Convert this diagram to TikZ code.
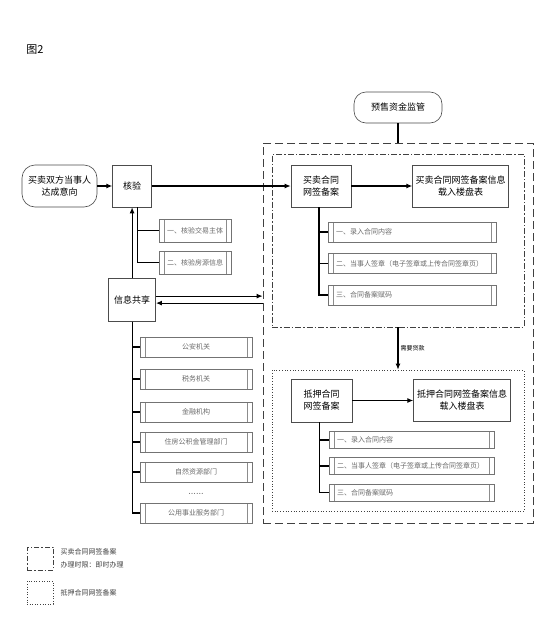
\documentclass[tikz,border=0pt]{standalone}
\usepackage{fontspec}
\newfontfamily\cjk{Noto Sans CJK SC}
\usetikzlibrary{positioning,arrows.meta}

\begin{document}
\begin{tikzpicture}[x=1pt,y=1pt,>={Latex[length=6pt,width=5pt]},
      main node/.style={draw=black!70,line width=0.6pt,fill=white,align=center,inner sep=1pt,
        font=\cjk\fontsize{9}{12}\selectfont},
      round node/.style={main node,rounded corners=13pt},
      sub node/.style={draw=black!55,line width=0.5pt,fill=white,text=black!58,inner sep=0pt,
        font=\cjk\fontsize{7}{8}\selectfont,
        path picture={\draw[black!45,line width=0.4pt]
          ([xshift=5pt]path picture bounding box.south west) -- ([xshift=5pt]path picture bounding box.north west)
          ([xshift=-5pt]path picture bounding box.south east) -- ([xshift=-5pt]path picture bounding box.north east);}},
      sub left/.style={sub node,text width=#1,align=left,inner xsep=8pt},
      frame/.style={draw=black!75,line width=0.7pt,inner sep=0pt},
      link/.style={line width=1.1pt}]
      \useasboundingbox (0,0) rectangle (553,-637);

      \node[font=\cjk\fontsize{11}{13}\selectfont] (title) at (35,-50) {图2};

      % frames
      \node[frame,dash pattern=on 8pt off 4pt,minimum width=270pt,minimum height=380pt] (outer) at (398,-333) {};
      \node[frame,dash pattern=on 6pt off 2pt on 1.5pt off 2pt,minimum width=252pt,minimum height=173pt] (inner) at (398,-240.5) {};
      \node[frame,dotted,minimum width=252pt,minimum height=141pt] (loan) at (398,-440.5) {};

      % main nodes
      \node[round node,minimum width=75pt,minimum height=42pt] (start) at (59.5,-186) {买卖双方当事人\\达成意向};
      \node[main node,minimum width=39pt,minimum height=42pt] (hy) [right=15pt of start] {核验};
      \node[main node,minimum width=47pt,minimum height=43pt] (share) [below=71pt of hy] {信息共享};
      \node[round node,minimum width=88pt,minimum height=31pt,rounded corners=12pt] (ys) at (398,-107.5) {预售资金监管};
      \node[main node,minimum width=60pt,minimum height=42pt] (mm) at (321,-186) {买卖合同\\网签备案};
      \node[main node,minimum width=96pt,minimum height=42pt] (mmx) [right=61pt of mm] {买卖合同网签备案信息\\载入楼盘表};
      \node[main node,minimum width=61pt,minimum height=43pt] (ln) at (321.5,-400.5) {抵押合同\\网签备案};
      \node[main node,minimum width=97pt,minimum height=42pt] (lnx) [right=61pt of ln] {抵押合同网签备案信息\\载入楼盘表};

      % sub nodes
      \node[sub node,minimum width=72pt,minimum height=23pt] (hy1) at (195,-230.5) {一、核验交易主体};
      \node[sub node,minimum width=72pt,minimum height=23pt] (hy2) at (195,-262.5) {二、核验房源信息};

      \node[sub node,minimum width=112pt,minimum height=20pt] (s1) at (196,-347) {公安机关};
      \node[sub node,minimum width=112pt,minimum height=20pt] (s2) at (196,-379) {税务机关};
      \node[sub node,minimum width=112pt,minimum height=20pt] (s3) at (196,-412) {金融机构};
      \node[sub node,minimum width=112pt,minimum height=20pt] (s4) at (196,-442) {住房公积金管理部门};
      \node[sub node,minimum width=112pt,minimum height=20pt] (s5) at (196,-472) {自然资源部门};
      \node[text=black!60,font=\bfseries\fontsize{7}{8}\selectfont] (s6) at (196,-494) {......};
      \node[sub node,minimum width=112pt,minimum height=20pt] (s7) at (196,-513) {公用事业服务部门};

      \node[sub left=152pt,minimum height=20pt] (m1) at (412,-232) {一、录入合同内容};
      \node[sub left=152pt,minimum height=20pt] (m2) at (412,-263.5) {二、当事人签章（电子签章或上传合同签章页）};
      \node[sub left=152pt,minimum height=20pt] (m3) at (412,-295) {三、合同备案赋码};

      \node[sub left=149pt,minimum height=17pt] (l1) at (411.5,-440) {一、录入合同内容};
      \node[sub left=149pt,minimum height=17pt] (l2) at (411.5,-466) {二、当事人签章（电子签章或上传合同签章页）};
      \node[sub left=149pt,minimum height=17pt] (l3) at (411.5,-492.5) {三、合同备案赋码};

      % legend
      \node[frame,line width=0.6pt,dash pattern=on 5pt off 2pt on 1.5pt off 2pt,minimum width=26pt,minimum height=23pt] (lg1) at (40,-558.5) {};
      \node[align=left,inner sep=0pt,text=black!75,font=\cjk\fontsize{7}{13}\selectfont] (lgt1) [right=7pt of lg1] {买卖合同网签备案\\办理时限：即时办理};
      \node[frame,line width=0.6pt,dotted,minimum width=26pt,minimum height=23pt] (lg2) at (40,-592.5) {};
      \node[inner sep=0pt,text=black!75,font=\cjk\fontsize{7}{9}\selectfont] (lgt2) [right=7pt of lg2] {抵押合同网签备案};

      % connectors
      \draw[link,->] (start) -- (hy);
      \draw[link,->] (hy) -- (mm);
      \draw[link,->] (mm) -- (mmx);
      \draw[link,->] (ln) -- (lnx);
      \draw[link,->] (share) -- (hy);
      \draw[link] (ys) -- (outer);
      \draw[link,->] (inner) -- node[right,inner sep=2pt,font=\cjk\fontsize{6}{7}\selectfont] {需要贷款} (loan);
      \draw[link,->] ([yshift=4pt]share.east) -- ([yshift=4pt]share.east -| outer.west);
      \draw[link,<-] ([yshift=-3pt]share.east) -- ([yshift=-3pt]share.east -| outer.west);

      \draw[link] ([xshift=5pt]hy.south) |- (hy1.west);
      \draw[link] ([xshift=5pt]hy.south) |- (hy2.west);

      \draw[link] (share.south) |- (s1.west);
      \draw[link] (share.south) |- (s2.west);
      \draw[link] (share.south) |- (s3.west);
      \draw[link] (share.south) |- (s4.west);
      \draw[link] (share.south) |- (s5.west);
      \draw[link] (share.south) |- (s7.west);

      \draw[link] ([xshift=-2pt]mm.south) |- (m1.west);
      \draw[link] ([xshift=-2pt]mm.south) |- (m2.west);
      \draw[link] ([xshift=-2pt]mm.south) |- (m3.west);

      \draw[link] ([xshift=-2pt]ln.south) |- (l1.west);
      \draw[link] ([xshift=-2pt]ln.south) |- (l2.west);
      \draw[link] ([xshift=-2pt]ln.south) |- (l3.west);
\end{tikzpicture}
\end{document}
